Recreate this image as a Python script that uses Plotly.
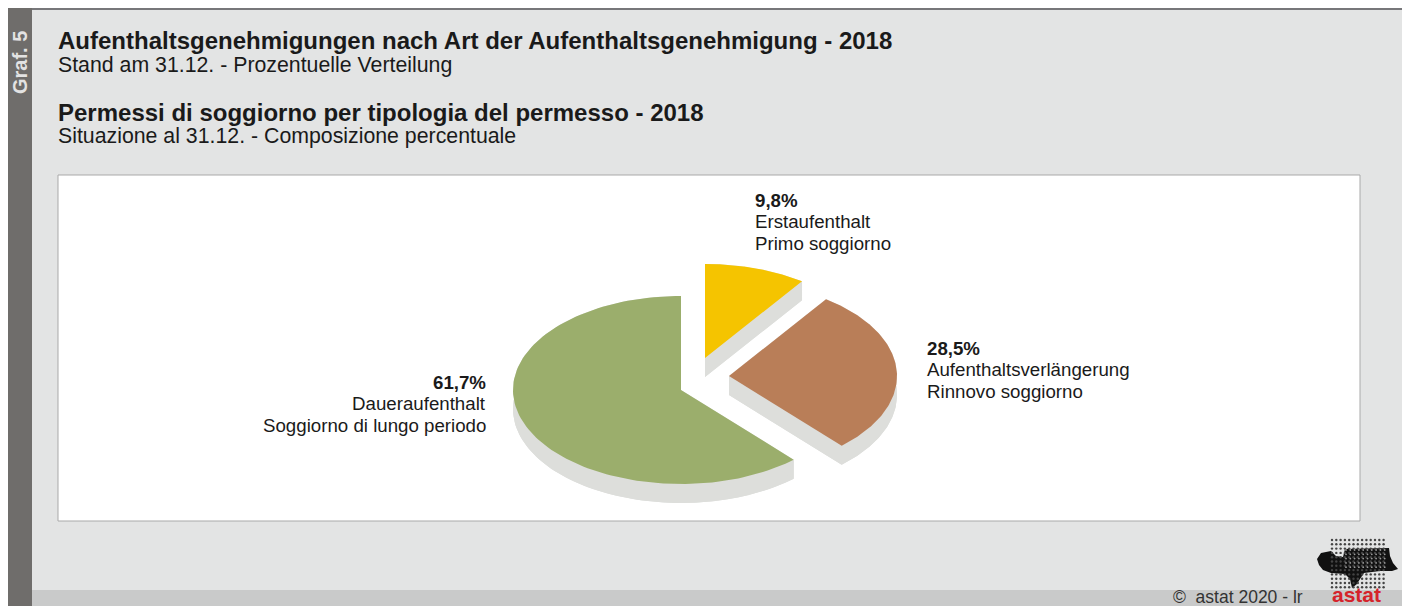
import math
import plotly.graph_objects as go

shares = [61.7, 28.5, 9.8]
names_de = ["Daueraufenthalt", "Aufenthaltsverlängerung", "Erstaufenthalt"]
names_it = ["Soggiorno di lungo periodo", "Rinnovo soggiorno", "Primo soggiorno"]
pct_labels = ["61,7%", "28,5%", "9,8%"]
colors = ["#9bae6c", "#b97e58", "#f5c400"]
apex_x = [681, 729, 705]
apex_y = [390, 376, 358]
label_x = [486, 927, 755]
label_y = [382, 348, 200]
label_anchor = ["right", "left", "left"]

RX, RY, DEPTH = 168, 94, 19
SIDE = "#dddedb"
FF = "Liberation Sans, Arial, sans-serif"

fig = go.Figure()

order = [2, 1, 0]
start = 90.0
angles = {}
for i in order:
    sweep = shares[i] / sum(shares) * 360
    angles[i] = (start - sweep, start)
    start -= sweep

def arc(i, a0, a1, n=120, dy=0):
    pts = [a0 + (a1 - a0) * k / n for k in range(n + 1)]
    return ([apex_x[i] + RX * math.cos(math.radians(a)) for a in pts],
            [apex_y[i] + dy - RY * math.sin(math.radians(a)) for a in pts])

for i in [0, 1, 2]:
    a0, a1 = angles[i]
    ax, ay = arc(i, a0, a1)
    bx, by = arc(i, a0, a1, dy=DEPTH)
    fig.add_trace(go.Scatter(x=bx + [apex_x[i]] + [bx[0]], y=by + [apex_y[i] + DEPTH] + [by[0]],
                             fill="toself", fillcolor=SIDE, mode="lines", line=dict(width=0), hoverinfo="skip"))
    fig.add_trace(go.Scatter(x=ax + bx[::-1] + [ax[0]], y=ay + by[::-1] + [ay[0]],
                             fill="toself", fillcolor=SIDE, mode="lines", line=dict(width=0), hoverinfo="skip"))
    for ex, ey in ((ax[0], ay[0]), (ax[-1], ay[-1])):
        fig.add_trace(go.Scatter(x=[apex_x[i], ex, ex, apex_x[i], apex_x[i]],
                                 y=[apex_y[i], ey, ey + DEPTH, apex_y[i] + DEPTH, apex_y[i]],
                                 fill="toself", fillcolor=SIDE, mode="lines", line=dict(width=0), hoverinfo="skip"))
for i in [0, 1, 2]:
    a0, a1 = angles[i]
    ax, ay = arc(i, a0, a1)
    fig.add_trace(go.Scatter(x=[apex_x[i]] + ax + [apex_x[i]], y=[apex_y[i]] + ay + [apex_y[i]],
                             fill="toself", fillcolor=colors[i], mode="lines", line=dict(width=0),
                             name=names_de[i], text=pct_labels[i], hoverinfo="name+text"))

def rect(x0, y0, x1, y1, fill, line=None):
    fig.add_shape(type="rect", x0=x0, y0=y0, x1=x1, y1=y1, fillcolor=fill,
                  line=dict(width=1 if line else 0, color=line), layer="below")

rect(8, 9, 1402, 606, "#e3e4e4")
rect(8, 8, 1402, 10, "#77777a")
rect(8, 590, 1402, 606, "#c9caca")
rect(8, 8, 32, 606, "#6f6d6b")
rect(58, 175, 1360, 521, "#ffffff", "#a9a9a9")

# logo silhouette
logo_x = [1317, 1321, 1331, 1336, 1343, 1345, 1389, 1390, 1393, 1398, 1392, 1380, 1364, 1360, 1357, 1352, 1350, 1345, 1331, 1323, 1319]
logo_y = [559, 553, 551, 556, 557, 549, 548, 556, 563, 569, 571, 571, 573, 579, 584, 588, 579, 574, 573, 570, 565]
path = "M " + " L ".join(f"{x},{y}" for x, y in zip(logo_x, logo_y)) + " Z"
fig.add_shape(type="path", path=path, fillcolor="#111111", line=dict(width=0), layer="below")
grid_x = [1332 + 4.3 * j for j in range(13)]
grid_y = [540 + 4.3 * k for k in range(12)]
fig.add_trace(go.Scatter(x=[a for a in grid_x for b in grid_y], y=[b for a in grid_x for b in grid_y],
                         mode="markers", marker=dict(size=2.4, color="#444444"), hoverinfo="skip"))
gap_x = [1346 + 4.3 * j for j in range(10)]
gap_y = [550 + 4.3 * k for k in range(5)]
fig.add_trace(go.Scatter(x=[a for a in gap_x for b in gap_y], y=[b for a in gap_x for b in gap_y],
                         mode="markers", marker=dict(size=1.8, color="#9a9a9a"), hoverinfo="skip"))

def text(x, y, s, size, bold=False, color="#1a1a1a", anchor="left", angle=0):
    fig.add_annotation(x=x, y=y, text=f"<b>{s}</b>" if bold else s, showarrow=False,
                       xanchor=anchor, yanchor="middle", textangle=angle, align=anchor,
                       borderpad=0, borderwidth=0,
                       font=dict(family=FF, size=size, color=color))

text(58, 40, "Aufenthaltsgenehmigungen nach Art der Aufenthaltsgenehmigung - 2018", 24, True)
text(58, 65, "Stand am 31.12. - Prozentuelle Verteilung", 21.3)
text(58, 112, "Permessi di soggiorno per tipologia del permesso - 2018", 24, True)
text(58, 136, "Situazione al 31.12. - Composizione percentuale", 21.3)
fig.add_annotation(x=20, y=63, text="<b>Graf. 5</b>", showarrow=False, textangle=-90,
                   font=dict(family=FF, size=20, color="#e3e3e3"))

for i in range(3):
    a = label_anchor[i]
    text(label_x[i], label_y[i], pct_labels[i], 18.7, True, anchor=a)
    text(label_x[i], label_y[i] + 21, names_de[i], 18.7, anchor=a)
    text(label_x[i], label_y[i] + 43, names_it[i], 18.7, anchor=a)

text(1173, 597, "©\u00a0\u00a0astat 2020 - lr", 17.5, color="#333333")
text(1332, 594, "<b>astat</b>", 21, color="#d5232a")

fig.update_layout(width=1402, height=606, margin=dict(l=0, r=0, t=0, b=0), showlegend=False,
                  paper_bgcolor="#ffffff", plot_bgcolor="#ffffff",
                  xaxis=dict(range=[0, 1402], visible=False, fixedrange=True),
                  yaxis=dict(range=[606, 0], visible=False, fixedrange=True))
fig.write_html("out.html", config={"displayModeBar": False},
               post_script="document.body.style.margin='0';document.documentElement.style.overflow='hidden';")
